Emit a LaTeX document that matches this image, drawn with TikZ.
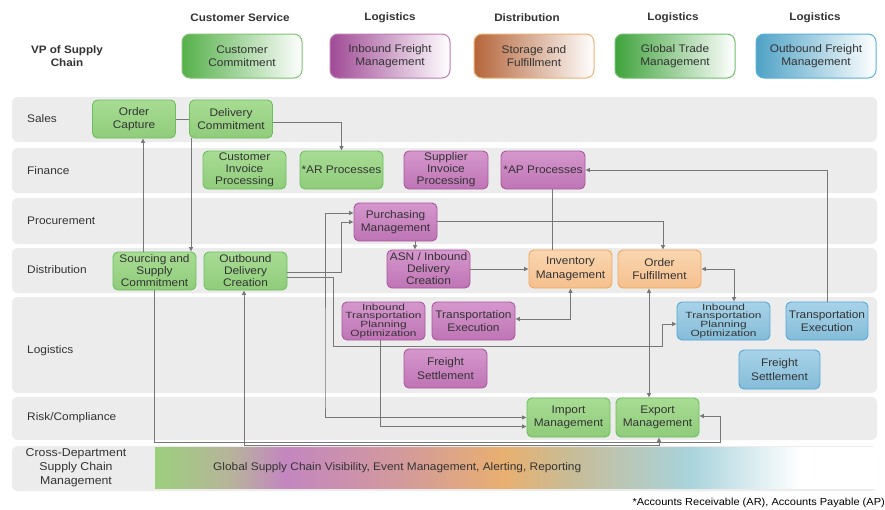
\documentclass[tikz,border=0pt]{standalone}
\usepackage{fontspec}
\setmainfont{Liberation Sans}[FakeStretch=1.08]
\newfontfamily\widefont{Liberation Sans}[FakeStretch=1.32]
\usetikzlibrary{arrows.meta,calc}
\definecolor{lanegray}{HTML}{ECECEC}
\definecolor{txt}{HTML}{333333}
\definecolor{lineg}{HTML}{777777}
\definecolor{gT}{HTML}{A8DC94}\definecolor{gB}{HTML}{8FCC7A}\definecolor{gD}{HTML}{6CBF5C}
\definecolor{pT}{HTML}{D597CD}\definecolor{pB}{HTML}{BF74B5}\definecolor{pD}{HTML}{A8579C}
\definecolor{oT}{HTML}{FAD6B0}\definecolor{oB}{HTML}{F5C08E}\definecolor{oD}{HTML}{F0A55A}
\definecolor{bT}{HTML}{A8D3E8}\definecolor{bB}{HTML}{84BCD8}\definecolor{bD}{HTML}{50A6D6}
\definecolor{hG}{HTML}{55B04A}\definecolor{hGd}{HTML}{7CC46D}
\definecolor{hP}{HTML}{A04A96}\definecolor{hPd}{HTML}{C07AB8}
\definecolor{hO}{HTML}{B5653A}\definecolor{hOd}{HTML}{F0B070}
\definecolor{hT}{HTML}{3FA33C}\definecolor{hTd}{HTML}{6FBF6A}
\definecolor{hB}{HTML}{4FA2C6}\definecolor{hBd}{HTML}{5AB0DC}
\definecolor{s1}{HTML}{9CCF7D}
\definecolor{s2}{HTML}{B7B49A}
\definecolor{s3}{HTML}{C386C0}
\definecolor{s4}{HTML}{D39A9C}
\definecolor{s5}{HTML}{E8B070}
\definecolor{s6}{HTML}{C8BC96}
\definecolor{s7}{HTML}{A9D3DC}
\pgfdeclarehorizontalshading{gscbar}{100bp}{color(0bp)=(s1); color(25bp)=(s1); color(30.2bp)=(s2); color(34bp)=(s3); color(42bp)=(s4); color(49.2bp)=(s5); color(53.7bp)=(s6); color(62bp)=(s7); color(69.7bp)=(white); color(100bp)=(white)}
\begin{document}
\begin{tikzpicture}[x=1pt,y=-1pt,
  lane/.style={fill=lanegray, rounded corners=6pt},
  lanelbl/.style={anchor=west, font=\fontsize{11}{13}\selectfont, text=txt, inner sep=0pt},
  hdr/.style={font=\bfseries\fontsize{10.8}{13.5}\selectfont, text=txt, align=center, inner sep=0pt},
  hbox/.style={rounded corners=8pt, line width=1pt, minimum width=120pt, minimum height=44pt, align=center, font=\fontsize{11}{13.5}\selectfont, text=txt, inner sep=1pt},
  nbox/.style={rounded corners=5pt, line width=0.9pt, minimum width=83pt, minimum height=38pt, align=center, font=\fontsize{11}{13.5}\selectfont, text=txt, inner sep=1pt},
  three/.style={font=\fontsize{11}{12}\selectfont},
  smallwide/.style={font=\widefont\fontsize{9}{8.7}\selectfont},
  gn/.style={nbox, draw=gD, top color=gT, bottom color=gB},
  pn/.style={nbox, draw=pD, top color=pT, bottom color=pB},
  orn/.style={nbox, draw=oD, top color=oT, bottom color=oB},
  bn/.style={nbox, draw=bD, top color=bT, bottom color=bB},
  conn/.style={draw=lineg, line width=0.9pt, >={Triangle[length=4.5pt,width=4pt]}},
]
\useasboundingbox (0,0) rectangle (885,509);
\fill[white] (0,0) rectangle (885,509);
% lanes
\fill[lane] (12,97) rectangle (877,142);
\fill[lane] (12,148) rectangle (877,193);
\fill[lane] (12,198) rectangle (877,244);
\fill[lane] (12,248) rectangle (877,293);
\fill[lane] (12,297) rectangle (877,393);
\fill[lane] (12,397) rectangle (877,440);
\fill[lane] (12,446) rectangle (877,491);
% lane labels
\node[lanelbl] (lsales) at (27,119) {Sales};
\node[lanelbl] (lfin) at (27,171) {Finance};
\node[lanelbl] (lproc) at (27,221) {Procurement};
\node[lanelbl] (ldist) at (27,270) {Distribution};
\node[lanelbl] (llog) at (27,351) {Logistics};
\node[lanelbl] (lrisk) at (27,418) {Risk/Compliance};
\node[font=\fontsize{11.4}{14}\selectfont, text=txt, align=center, inner sep=0pt] (lcross) at (76,468) {Cross-Department\\Supply Chain\\Management};
% header
\node[hdr] (vp) at (67,56) {VP of Supply\\Chain};
\node[hdr] (t1) at (240,18) {Customer Service};
\node[hdr] (t2) at (390,18) {Logistics};
\node[hdr] (t3) at (527,18) {Distribution};
\node[hdr] (t4) at (673,18) {Logistics};
\node[hdr] (t5) at (815,18) {Logistics};
\node[hbox, draw=hGd, left color=hG, middle color=hG!45!white, right color=white] (hcc) at (242,56) {Customer\\Commitment};
\node[hbox, draw=hPd, left color=hP, middle color=hP!45!white, right color=white] (hifm) at (390,56) {Inbound Freight\\Management};
\node[hbox, draw=hOd, left color=hO, middle color=hO!45!white, right color=white] (hsf) at (534,56) {Storage and\\Fulfillment};
\node[hbox, draw=hTd, left color=hT, middle color=hT!45!white, right color=white] (hgtm) at (675,56) {Global Trade\\Management};
\node[hbox, draw=hBd, left color=hB, middle color=hB!45!white, right color=white] (hofm) at (816,56) {Outbound Freight\\Management};
% process nodes
\node[gn] (oc) at (134,119) {Order\\Capture};
\node[gn] (dc) at (231,119) {Delivery\\Commitment};
\node[gn, three] (cip) at (244.5,170) {Customer\\Invoice\\Processing};
\node[gn] (ar) at (341.5,170) {*AR Processes};
\node[pn, three, minimum width=84pt] (sip) at (446,170) {Supplier\\Invoice\\Processing};
\node[pn, minimum width=84pt] (ap) at (543,170) {*AP Processes};
\node[pn] (pm) at (395.5,222) {Purchasing\\Management};
\node[gn, three] (ssc) at (154.5,271) {Sourcing and\\Supply\\Commitment};
\node[gn, three] (odc) at (245.5,271) {Outbound\\Delivery\\Creation};
\node[pn, three] (asn) at (428.5,269) {ASN / Inbound\\Delivery\\Creation};
\node[orn] (im) at (570.5,269) {Inventory\\Management};
\node[orn] (of) at (659.5,269) {Order\\Fulfillment};
\node[pn, smallwide] (itpo1) at (383.5,321) {Inbound\\Transportation\\Planning\\Optimization};
\node[pn] (te1) at (473.5,321) {Transportation\\Execution};
\node[pn, minimum height=39pt] (fs1) at (445.5,368.5) {Freight\\Settlement};
\node[bn, smallwide, minimum width=93pt] (itpo2) at (723.5,321) {Inbound\\Transportation\\Planning\\Optimization};
\node[bn, minimum width=82pt] (te2) at (827,321) {Transportation\\Execution};
\node[bn, minimum width=81pt, minimum height=39pt] (fs2) at (779.5,369.5) {Freight\\Settlement};
\node[gn, minimum height=39pt] (imp) at (568.5,417.5) {Import\\Management};
\node[gn, minimum height=39pt] (exp) at (657.5,417.5) {Export\\Management};
% bottom bar
\node[shade, shading=gscbar, minimum width=722pt, minimum height=41pt, inner sep=0pt, anchor=west] (gbar) at (155,467.5) {};
\node[anchor=west, inner sep=0pt, font=\fontsize{11}{13}\selectfont, text=txt] (gtxt) at (213,468) {Global Supply Chain Visibility, Event Management, Alerting, Reporting};
\node[anchor=east, inner sep=0pt, font=\fontsize{10.2}{12}\selectfont, text=black] (fn) at (885,503) {*Accounts Receivable (AR), Accounts Payable (AP)};
% connectors
\draw[conn] (oc.east) -- (dc.west);
\draw[conn,->] ([yshift=-3pt]dc.east) -| (ar.north);
\draw[conn,->] ([xshift=-11.5pt]ssc.north) -- ([xshift=9pt]oc.south);
\draw[conn,->] ([xshift=-40pt]dc.south) -- ([xshift=36.5pt]ssc.north);
\draw[conn,->] ([yshift=-1pt]odc.east) -| ([xshift=-12pt]pm.west) -- (pm.west);
\draw[conn,->] ([yshift=-6pt]odc.east) -| (333,346) -| (662,324) -- ([yshift=-3pt]itpo2.west);
\draw[conn,<->] ([yshift=9pt]pm.west) -| (325,400) |- (imp.west);
\draw[conn,->] ([xshift=-3.5pt]itpo1.south) |- ([yshift=-9pt]imp.west);
\draw[conn,->] ([yshift=1pt]pm.east) -| ([xshift=3.5pt]of.north);
\draw[conn] ([xshift=9pt]ap.south) -- ([xshift=-18.5pt]im.north);
\draw[conn,->] ([xshift=19.5pt]pm.south) -- ([xshift=-13.5pt]asn.north);
\draw[conn,->] (asn.east) -- (im.west);
\draw[conn,<->] ([yshift=2pt]te1.east) -| (im.south);
\draw[conn,<->] ([xshift=-10.5pt]of.south) -- ([xshift=-8.5pt]exp.north);
\draw[conn,<->] (of.east) -| ([xshift=10.5pt]itpo2.north);
\draw[conn,->] (te2.north) |- (ap.east);
\draw[conn,->] (ssc.south) |- (720,442) |- ([yshift=1.5pt]exp.east);
\draw[conn,<->] ([xshift=-1.5pt]odc.south) |- ([xshift=1.5pt,yshift=-7.5pt]exp.south) -- ([xshift=1.5pt]exp.south);
\end{tikzpicture}
\end{document}
